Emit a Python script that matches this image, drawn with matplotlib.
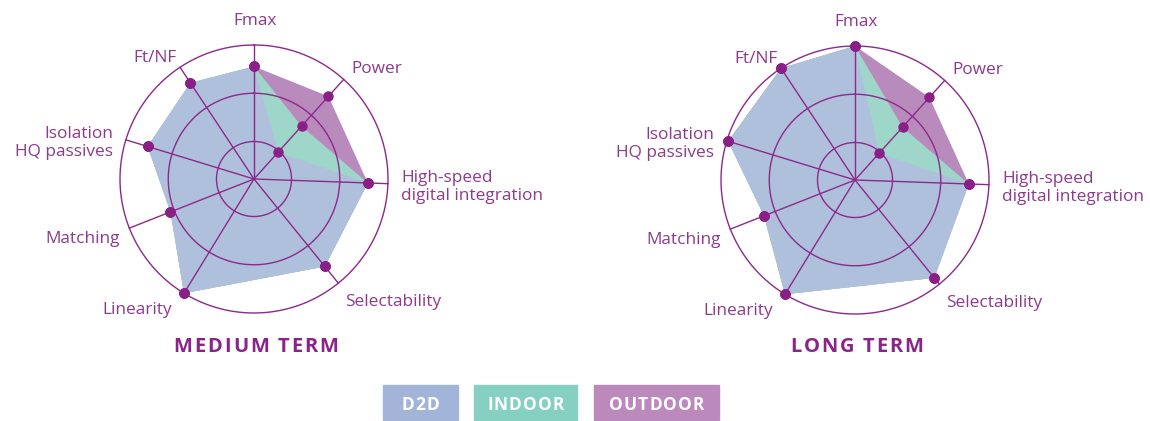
import numpy as np
import matplotlib
matplotlib.use("Agg")
import matplotlib.pyplot as plt
from matplotlib.patches import Rectangle
from matplotlib.textpath import TextPath
from matplotlib.font_manager import FontProperties

plt.rcParams['font.family'] = ['Open Sans', 'DejaVu Sans']

# ---- data ----
axes_labels = ["Fmax", "Power", "High-speed\ndigital integration", "Selectability",
               "Linearity", "Matching", "Isolation\nHQ passives", "Ft/NF"]
series_names = ["OUTDOOR", "INDOOR", "D2D"]
medium_outdoor = [0.84, 0.83, 0.85, 0.84, 1.00, 0.67, 0.83, 0.86]
medium_indoor  = [0.84, 0.53, 0.85, 0.84, 1.00, 0.67, 0.83, 0.86]
medium_d2d     = [0.84, 0.27, 0.85, 0.84, 1.00, 0.67, 0.83, 0.86]
long_outdoor   = [1.00, 0.83, 0.85, 0.94, 1.00, 0.73, 0.99, 1.00]
long_indoor    = [1.00, 0.53, 0.85, 0.94, 1.00, 0.73, 0.99, 1.00]
long_d2d       = [1.00, 0.27, 0.85, 0.94, 1.00, 0.73, 0.99, 1.00]
titles = ["MEDIUM TERM", "LONG TERM"]
legend_names = ["D2D", "INDOOR", "OUTDOOR"]

# ---- style ----
spoke_deg = [0, 42, 92, 141, 211.5, 248.5, 287, 326.5]
ring_r = [0.28, 0.64, 1.0]
fill_colors = {"OUTDOOR": "#b98bbd", "INDOOR": "#9fd6ca", "D2D": "#afc0dc"}
legend_colors = {"D2D": "#a2b5d8", "INDOOR": "#86d0c1", "OUTDOOR": "#bc89bc"}
line_color = "#8c2a8a"
dot_color = "#8a1f88"
text_color = "#8e3a8c"

W, H = 1150, 421
DPI = 100
fig = plt.figure(figsize=(W / DPI, H / DPI), dpi=DPI)

def fx(x): return x / W
def fy(y): return 1 - y / H

def spaced_text(xc, yc, s, size, spacing_px, color, weight="bold"):
    """Draw letter-spaced text centred at pixel (xc, yc)."""
    fp = FontProperties(family="Open Sans", weight=weight, size=size)
    scale = DPI / 72.0
    adv = []
    for ch in s:
        if ch == " ":
            w = TextPath((0, 0), "a a", prop=fp).get_extents().width - \
                TextPath((0, 0), "aa", prop=fp).get_extents().width
        else:
            w = TextPath((0, 0), "|" + ch + "|", prop=fp).get_extents().width - \
                TextPath((0, 0), "||", prop=fp).get_extents().width
        adv.append(w * scale)
    total = sum(adv) + spacing_px * (len(s) - 1)
    x = xc - total / 2
    for ch, a in zip(s, adv):
        if ch != " ":
            fig.text(fx(x), fy(yc), ch, ha="left", va="center", color=color,
                     fontsize=size, fontweight=weight)
        x += a + spacing_px

centers = [(254, 179), (855, 180)]
R = 134
datasets = [
    {"OUTDOOR": medium_outdoor, "INDOOR": medium_indoor, "D2D": medium_d2d},
    {"OUTDOOR": long_outdoor, "INDOOR": long_indoor, "D2D": long_d2d},
]

theta = np.deg2rad(spoke_deg)
theta_closed = np.append(theta, theta[0])

# label offsets relative to center (px): (dx, dy, ha)
label_pos = [
    (1, -158, "center"),
    (123, -110, "center"),
    (147, 8, "left"),
    (91, 123, "left"),
    (-117, 131, "center"),
    (-134, 60, "right"),
    (-141, -36, "right"),
    (-99, -121, "center"),
]

for (cx, cy), data, title in zip(centers, datasets, titles):
    ax = fig.add_axes([fx(cx - R), fy(cy + R), 2 * R / W, 2 * R / H], projection="polar")
    ax.set_theta_zero_location("N")
    ax.set_theta_direction(-1)
    ax.set_ylim(0, 1)
    ax.axis("off")
    for name in series_names:
        vals = np.array(data[name])
        ax.fill(theta_closed, np.append(vals, vals[0]), color=fill_colors[name],
                lw=0, zorder=2)
    circ = np.linspace(0, 2 * np.pi, 361)
    for r in ring_r:
        ax.plot(circ, np.full_like(circ, r), color=line_color, lw=1.0, zorder=3, clip_on=False)
    for t in theta:
        ax.plot([t, t], [0, 1.0], color=line_color, lw=1.0, zorder=3, clip_on=False)
    for name in series_names:
        ax.plot(theta, data[name], "o", color=dot_color, ms=6.5, zorder=4, clip_on=False)
    for lab, (dx, dy, ha) in zip(axes_labels, label_pos):
        fig.text(fx(cx + dx), fy(cy + dy), lab, ha=ha, va="center", color=text_color,
                 fontsize=12.4, linespacing=1.22)
    spaced_text(cx + 2, 346.5, title, 14.5, 1.8, "#8a2489")

# legend boxes
boxes = [(383, 458), (474, 577), (594, 719)]
for name, (x0, x1) in zip(legend_names, boxes):
    fig.patches.append(Rectangle((fx(x0), fy(420)), fx(x1 - x0), (420 - 385) / H,
                                 transform=fig.transFigure, color=legend_colors[name]))
    spaced_text((x0 + x1) / 2, 404.5, name, 12.5, 1.0, "white")

fig.savefig("out.png", dpi=DPI)
